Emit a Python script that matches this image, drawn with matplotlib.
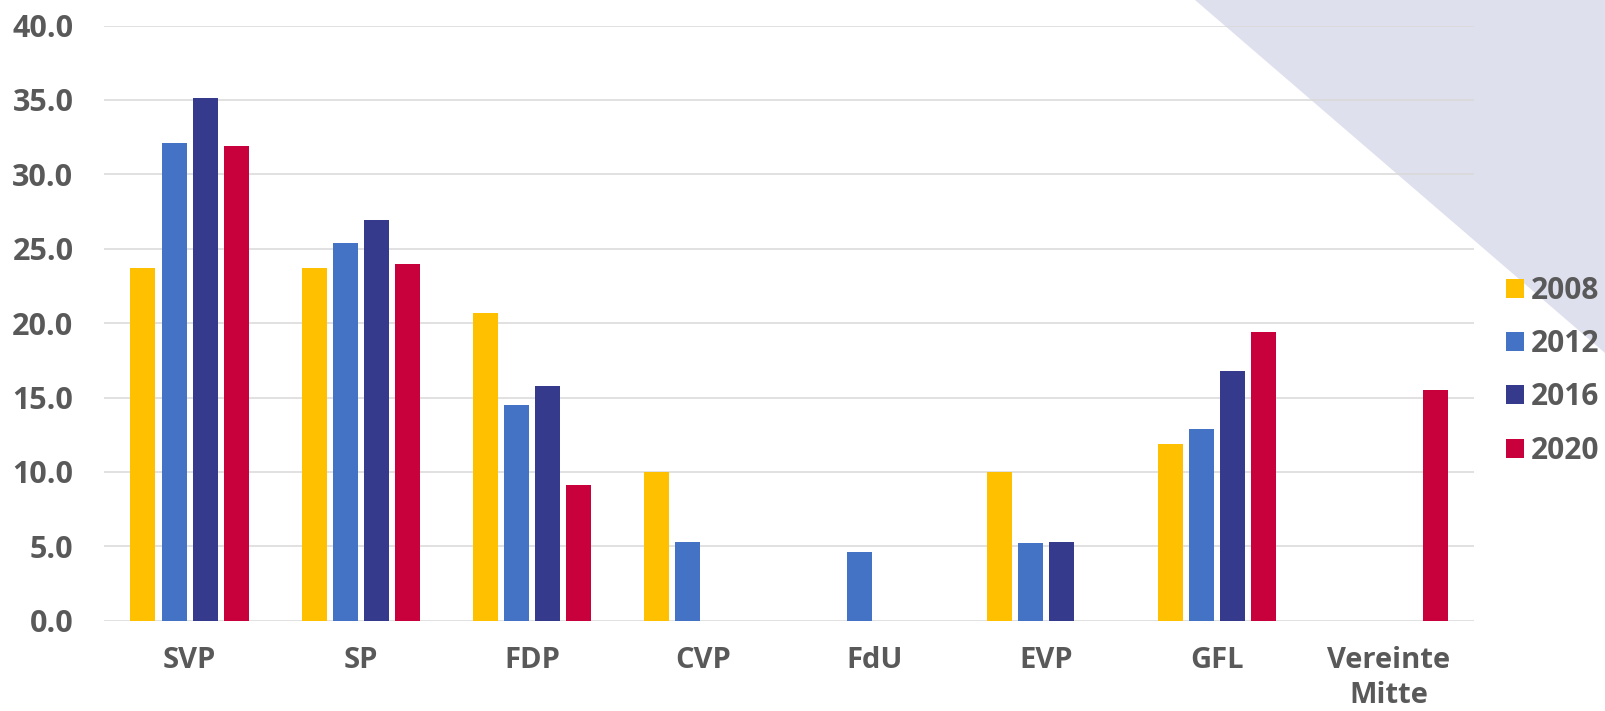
import numpy as np
import matplotlib
matplotlib.use('Agg')
import matplotlib.pyplot as plt
from matplotlib.patches import Polygon

# Daten
parteien = ['SVP', 'SP', 'FDP', 'CVP', 'FdU', 'EVP', 'GFL', 'Vereinte\nMitte']
jahre = ['2008', '2012', '2016', '2020']
w2008 = [23.7, 23.7, 20.7, 10.0, np.nan, 10.0, 11.9, np.nan]
w2012 = [32.1, 25.4, 14.5, 5.3, 4.6, 5.2, 12.9, np.nan]
w2016 = [35.1, 26.9, 15.8, np.nan, np.nan, 5.3, 16.8, np.nan]
w2020 = [31.9, 24.0, 9.1, np.nan, np.nan, np.nan, 19.4, 15.5]
farben = ['#FFC000', '#4472C4', '#363A8C', '#C8003C']
grau = '#595959'

plt.rcParams['font.family'] = ['Open Sans', 'DejaVu Sans']
plt.rcParams['font.weight'] = 'bold'

fig = plt.figure(figsize=(16.05, 7.11), dpi=100)
ax = fig.add_axes([0.0648, 0.127, 0.8536, 0.8371])
ax.set_facecolor('none')

# hellvioletter Keil oben rechts
fig.patches.append(Polygon([(0.7445, 1.0), (1.0, 1.0), (1.0, 0.503)], closed=True,
                           transform=fig.transFigure, facecolor='#DFE0EE',
                           edgecolor='none', zorder=-1))

x = np.arange(len(parteien))
breite = 0.146
schritt = 0.182
for i, (werte, jahr) in enumerate(zip([w2008, w2012, w2016, w2020], jahre)):
    ax.bar(x + (i - 1.5) * schritt, werte, breite, color=farben[i], label=jahr, zorder=3)

ax.set_ylim(0, 40)
ax.set_xlim(-0.5, len(parteien) - 0.5)
ax.set_yticks(np.arange(0, 41, 5))
ax.set_yticklabels([f'{v:.1f}' for v in np.arange(0, 41, 5)])
ax.set_xticks(x)
ax.set_xticklabels(parteien, linespacing=1.3)
ax.grid(axis='y', color='#D9D9D9', linewidth=1.1, zorder=0)
ax.tick_params(axis='y', length=0, pad=22, labelsize=22, labelcolor=grau)
ax.tick_params(axis='x', length=0, pad=18, labelsize=21, labelcolor=grau)
for s in ax.spines.values():
    s.set_visible(False)

leg = fig.legend(loc='center left', bbox_to_anchor=(0.9383, 0.4787), frameon=False,
                 fontsize=21.5, handlelength=0.6, handleheight=0.6, handletextpad=0.23,
                 labelspacing=0.78, borderpad=0, borderaxespad=0)
for t in leg.get_texts():
    t.set_color(grau)

fig.savefig('out.png', dpi=100)
